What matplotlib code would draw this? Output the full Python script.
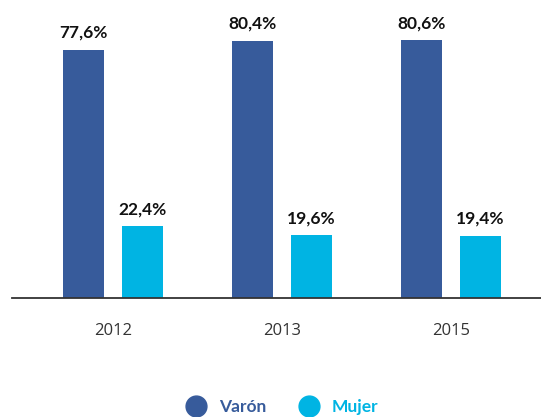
import matplotlib.pyplot as plt
from matplotlib.lines import Line2D

plt.rcParams['font.family'] = ['Open Sans', 'DejaVu Sans']
bold_font = ['Lato', 'DejaVu Sans']

years = ['2012', '2013', '2015']
varon = [77.6, 80.4, 80.6]
mujer = [22.4, 19.6, 19.4]
series_names = ['Varón', 'Mujer']
colors = ['#375b9b', '#00b4e3']

W, H = 541, 417
fig = plt.figure(figsize=(W / 100, H / 100), dpi=100)
# axes: x 12..541 px, baseline at y=298 px from top
ax = fig.add_axes([12 / W, (H - 298) / H, (541 - 12) / W, 298 / H])

x = range(len(years))
off = 0.175
bw = 0.243
for vals, c, d in [(varon, colors[0], -off), (mujer, colors[1], off)]:
    xs = [i + d for i in x]
    ax.bar(xs, vals, width=bw, color=c)
    for xi, v in zip(xs, vals):
        ax.text(xi, v + 2.8, f'{v:.1f}%'.replace('.', ','), ha='center', va='bottom',
                fontsize=12.5, fontweight='bold', color='#111111', family=bold_font)

ax.set_xlim(-0.598, 2.533)
ax.set_ylim(0, 298 / 3.2)
ax.set_xticks(list(x))
ax.set_xticklabels(years, fontsize=12, color='#333333')
ax.tick_params(axis='x', length=0, pad=18)
ax.set_yticks([])
for s in ['top', 'right', 'left']:
    ax.spines[s].set_visible(False)
ax.spines['bottom'].set_color('#333333')
ax.spines['bottom'].set_linewidth(1.3)

handles = [Line2D([], [], marker='o', linestyle='none', markersize=15,
                  color=c, label=n) for n, c in zip(series_names, colors)]
leg = fig.legend(handles=handles, loc='center', bbox_to_anchor=(0.515, (H - 407) / H),
                 ncol=2, frameon=False, handletextpad=0.3, columnspacing=1.5,
                 prop={'size': 12.5, 'weight': 'bold', 'family': bold_font})
for t, c in zip(leg.get_texts(), colors):
    t.set_color(c)

fig.savefig('out.png', dpi=100)
